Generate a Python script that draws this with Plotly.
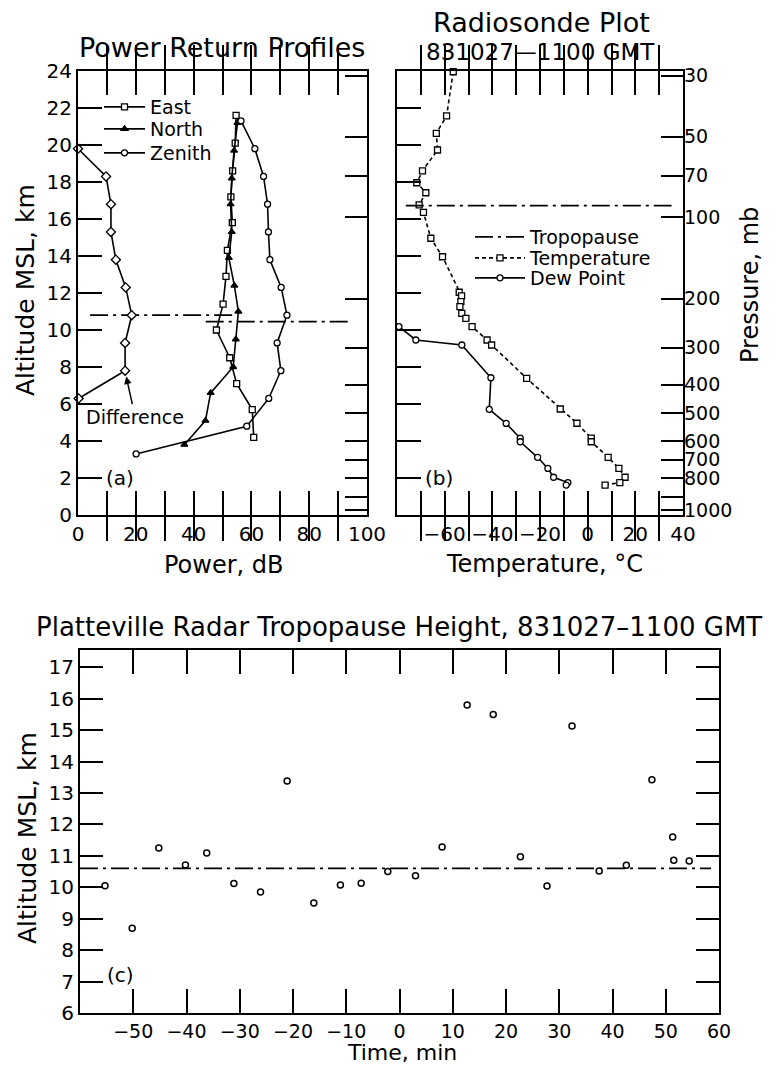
import plotly.graph_objects as go

W, H = 777, 1075
OFF = 8                      # default page margin of the browser body
FW, FH = W - 2 * OFF, H - 2 * OFF
FONT = "DejaVu Sans"

# ---------------- Panel (a): Power return profiles ----------------
east_db = [54.7, 54.4, 53.5, 52.9, 53.4, 51.7, 51.2, 50.2, 47.9, 52.5, 54.9, 60.3, 60.8]
east_alt = [21.6, 20.1, 18.6, 17.2, 15.8, 14.3, 12.9, 11.4, 10.0, 8.5, 7.1, 5.7, 4.2]
north_db = [55.2, 54.0, 53.2, 52.8, 53.2, 52.2, 54.1, 55.5, 54.6, 53.7, 45.9, 44.1, 36.8]
north_alt = [21.2, 19.7, 18.2, 16.8, 15.3, 13.9, 12.4, 11.0, 9.5, 8.0, 6.6, 5.1, 3.8]
zenith_db = [56.4, 61.2, 64.2, 65.6, 65.9, 66.4, 70.3, 72.3, 68.9, 70.2, 66.0, 58.4, 20.1]
zenith_alt = [21.3, 19.8, 18.3, 16.8, 15.3, 13.8, 12.3, 10.8, 9.3, 7.8, 6.3, 4.8, 3.3]
diff_db = [0.0, 9.7, 11.4, 11.4, 13.1, 16.5, 18.6, 16.3, 16.3, 0.2]
diff_alt = [19.8, 18.3, 16.8, 15.3, 13.8, 12.3, 10.8, 9.3, 7.8, 6.3]
trop_a_left_db = [4.2, 54.3]
trop_a_left_alt = [10.8, 10.8]
trop_a_right_db = [44.2, 94.7]
trop_a_right_alt = [10.45, 10.45]

# ---------------- Panel (b): Radiosonde ----------------
temp_c = [-56.4, -59.2, -63.5, -63.0, -69.3, -71.7, -67.9, -70.7, -68.9, -65.8, -60.9,
          -53.9, -52.9, -53.2, -53.6, -52.8, -51.1, -48.5, -42.2, -40.3, -25.6,
          -11.5, -4.5, 1.5, 1.5, 8.6, 13.1, 15.7, 13.5, 7.3]
temp_alt = [23.96, 21.57, 20.63, 19.73, 18.6, 17.96, 17.42, 16.76, 16.36, 14.96, 13.96,
            12.04, 11.84, 11.53, 11.26, 10.9, 10.63, 10.18, 9.46, 9.19, 7.39,
            5.73, 4.96, 4.15, 3.96, 3.12, 2.52, 2.04, 1.75, 1.62]
dew_c = [-79.2, -72.1, -52.8, -40.6, -41.3, -34.2, -28.3, -28.3, -21.0, -16.7, -14.3, -8.3, -9.0]
dew_alt = [10.18, 9.46, 9.19, 7.42, 5.71, 4.95, 4.15, 3.96, 3.12, 2.52, 2.04, 1.75, 1.62]
trop_b_c = [-76.3, 35.2]
trop_b_alt = [16.72, 16.72]
pressure_labels = ["30", "50", "70", "100", "200", "300", "400", "500", "600", "700", "800", "", "1000"]
pressure_alt_km = [23.75, 20.45, 18.35, 16.1, 11.7, 9.05, 7.05, 5.5, 4.0, 3.0, 1.98, 0.98, 0.25]

# ---------------- Panel (c): Tropopause height vs time ----------------
time_min = [-55.3, -50.2, -45.2, -40.2, -36.2, -31.1, -26.1, -21.1, -16.1, -11.1, -7.2, -2.2,
            3.0, 8.0, 12.7, 17.6, 22.7, 27.7, 32.4, 37.5, 42.6, 47.4, 51.3, 51.5, 54.4]
trop_km = [10.05, 8.70, 11.25, 10.71, 11.09, 10.12, 9.85, 13.38, 9.50, 10.07, 10.13, 10.50,
           10.37, 11.28, 15.80, 15.50, 10.97, 10.04, 15.13, 10.52, 10.70, 13.42, 11.6, 10.86, 10.84]
trop_c_t = [-60, 58.5]
trop_c_alt = [10.6, 10.6]

# tick labels
a_x_ticks = [0, 10, 20, 30, 40, 50, 60, 70, 80, 90, 100]
a_x_labels = ["0", "", "20", "", "40", "", "60", "", "80", "", "100"]
alt_ticks = [0, 2, 4, 6, 8, 10, 12, 14, 16, 18, 20, 22, 24]
alt_labels = [str(v) for v in alt_ticks]
b_x_ticks = [-70, -60, -50, -40, -30, -20, -10, 0, 10, 20, 30, 40]
b_x_labels = ["", "\u221260", "", "\u221240", "", "\u221220", "", "0", "", "20", "", "40"]
c_x_ticks = [-50, -40, -30, -20, -10, 0, 10, 20, 30, 40, 50, 60]
c_x_labels = ["\u221250", "\u221240", "\u221230", "\u221220", "\u221210", "0", "10", "20", "30", "40", "50", "60"]
c_y_ticks = [6, 7, 8, 9, 10, 11, 12, 13, 14, 15, 16, 17]
c_y_labels = [str(v) for v in c_y_ticks]


def px_x(p):
    return (p - OFF) / FW


def px_y(p):
    return 1 - (p - OFF) / FH


TROP_DASH = "18px,5px,3px,5px"
fig = go.Figure()


def prof(x, y, xa, ya, name, symbol, fill, dash="solid", legend=None, msize=6):
    kw = dict(showlegend=False)
    if legend:
        kw = dict(showlegend=True, legend=legend)
    return go.Scatter(x=x, y=y, xaxis=xa, yaxis=ya, mode="lines+markers", name=name,
                      line=dict(color="black", width=1.6, dash=dash),
                      marker=dict(symbol=symbol, size=msize, color=fill,
                                  line=dict(color="black", width=1.3)),
                      cliponaxis=False, **kw)


def trop(x, y, xa, ya, legend=None):
    kw = dict(showlegend=False)
    if legend:
        kw = dict(showlegend=True, legend=legend)
    return go.Scatter(x=x, y=y, xaxis=xa, yaxis=ya, mode="lines", name="Tropopause",
                      line=dict(color="black", width=1.8, dash=TROP_DASH), **kw)


# panel a
fig.add_trace(trop(trop_a_left_db, trop_a_left_alt, "x", "y"))
fig.add_trace(trop(trop_a_right_db, trop_a_right_alt, "x", "y4"))
fig.add_trace(prof(diff_db, diff_alt, "x", "y", "Difference", "diamond", "white", msize=7))
fig.add_trace(prof(east_db, east_alt, "x", "y", "East", "square", "white", legend="legend"))
fig.add_trace(prof(north_db, north_alt, "x", "y", "North", "triangle-up", "black", legend="legend2"))
fig.add_trace(prof(zenith_db, zenith_alt, "x", "y", "Zenith", "circle", "white", legend="legend3"))

# panel b
fig.add_trace(trop(trop_b_c, trop_b_alt, "x2", "y3", legend="legend4"))
fig.add_trace(prof(temp_c, temp_alt, "x2", "y2", "Temperature", "square", "white",
                   dash="4px,3px", legend="legend5"))
fig.add_trace(prof(dew_c, dew_alt, "x2", "y2", "Dew Point", "circle", "white", legend="legend6"))

# panel c
fig.add_trace(trop(trop_c_t, trop_c_alt, "x3", "y5"))
fig.add_trace(go.Scatter(x=time_min, y=trop_km, xaxis="x3", yaxis="y5", mode="markers",
                         marker=dict(symbol="circle", size=6, color="white",
                                     line=dict(color="black", width=1.5)),
                         showlegend=False, cliponaxis=False, name="Radar tropopause"))

tickfont = dict(family=FONT, size=20, color="black")
base = dict(showline=True, linewidth=2, linecolor="black", ticks="inside", ticklen=24,
            tickwidth=2, tickcolor="black", showgrid=False, zeroline=False, tickfont=tickfont,
            automargin=False)

A_X = [px_x(78), px_x(367)]
AB_Y = [px_y(515), px_y(71)]
B_X = [px_x(397), px_x(683)]
C_X = [px_x(80), px_x(719)]
C_Y = [px_y(1013), px_y(650)]

layout = dict(
    width=FW, height=FH, autosize=False,
    margin=dict(l=0, r=0, t=0, b=0, pad=0),
    paper_bgcolor="white", plot_bgcolor="white",
    font=dict(family=FONT, color="black"),
    xaxis=dict(base, domain=A_X, range=[0, 100], anchor="y", tickmode="array",
               tickvals=a_x_ticks, ticktext=a_x_labels, mirror="allticks"),
    yaxis=dict(base, domain=AB_Y, range=[0, 24], anchor="x", tickmode="array",
               tickvals=alt_ticks, ticktext=alt_labels, mirror=True),
    yaxis4=dict(base, overlaying="y", side="right", anchor="x", range=[0, 24], showline=False,
                tickmode="array", tickvals=pressure_alt_km, showticklabels=False, ticklen=22),
    xaxis2=dict(base, domain=B_X, range=[-80, 40], anchor="y2", tickmode="array",
                tickvals=b_x_ticks, ticktext=b_x_labels, mirror="allticks"),
    yaxis2=dict(base, domain=AB_Y, range=[0, 24], anchor="x2", tickmode="array",
                tickvals=alt_ticks, showticklabels=False, mirror=True),
    yaxis3=dict(base, overlaying="y2", side="right", anchor="x2", range=[0, 24], showline=False,
                tickmode="array", tickvals=pressure_alt_km, ticktext=pressure_labels, ticklen=22,
                tickfont=dict(family=FONT, size=19, color="black")),
    xaxis3=dict(base, domain=C_X, range=[-60, 60], anchor="y5", tickmode="array",
                tickvals=c_x_ticks, ticktext=c_x_labels, mirror="allticks",
                tickfont=dict(family=FONT, size=19, color="black")),
    yaxis5=dict(base, domain=C_Y, range=[6, 17.55], anchor="x3", tickmode="array",
                tickvals=c_y_ticks, ticktext=c_y_labels, mirror="allticks", ticklen=23),
)

leg_base = dict(bgcolor="rgba(0,0,0,0)", borderwidth=0, font=dict(family=FONT, size=19, color="black"),
                xanchor="left", yanchor="middle", itemclick=False, itemdoubleclick=False)
layout["legend"] = dict(leg_base, x=px_x(99), y=px_y(107), itemwidth=41)
layout["legend2"] = dict(leg_base, x=px_x(99), y=px_y(129), itemwidth=41)
layout["legend3"] = dict(leg_base, x=px_x(99), y=px_y(153), itemwidth=41)
layout["legend4"] = dict(leg_base, x=px_x(470), y=px_y(237), itemwidth=50)
layout["legend5"] = dict(leg_base, x=px_x(470), y=px_y(258), itemwidth=50)
layout["legend6"] = dict(leg_base, x=px_x(470), y=px_y(278), itemwidth=50)


def ann(text, x, y, size, angle=0, xref="paper", yref="paper"):
    return dict(text=text, x=x, y=y, xref=xref, yref=yref, showarrow=False, textangle=angle,
                xanchor="center", yanchor="middle", font=dict(family=FONT, size=size, color="black"))


annotations = [
    ann("Power Return Profiles", px_x(222), px_y(48), 27),
    ann("Radiosonde Plot", px_x(541), px_y(22), 27),
    ann("831027\u20141100 GMT", px_x(540), px_y(52), 23),
    ann("Platteville Radar Tropopause Height, 831027\u20131100 GMT", px_x(399), px_y(627), 26),
    ann("Power, dB", px_x(224), px_y(565), 24),
    ann("Temperature, \u00b0C", px_x(544), px_y(564), 24),
    ann("Time, min", px_x(402), px_y(1052), 22),
    ann("Altitude MSL, km", px_x(25), px_y(290), 25, angle=-90),
    ann("Pressure, mb", px_x(750), px_y(285), 24, angle=-90),
    ann("Altitude MSL, km", px_x(27), px_y(838), 25, angle=-90),
    ann("(a)", 14.5, 2.0, 20, xref="x", yref="y"),
    ann("(b)", -62.3, 2.0, 20, xref="x2", yref="y2"),
    ann("(c)", -52.4, 7.2, 20, xref="x3", yref="y5"),
    dict(text="Difference", x=16.3, y=7.75, xref="x", yref="y", showarrow=True, ax=10, ay=45,
         arrowhead=2, arrowsize=1, arrowwidth=1.5, arrowcolor="black", standoff=5,
         font=dict(family=FONT, size=19, color="black")),
]
layout["annotations"] = annotations

fig.update_layout(**layout)
fig.write_html("out.html", config={"displayModeBar": False, "responsive": False})
